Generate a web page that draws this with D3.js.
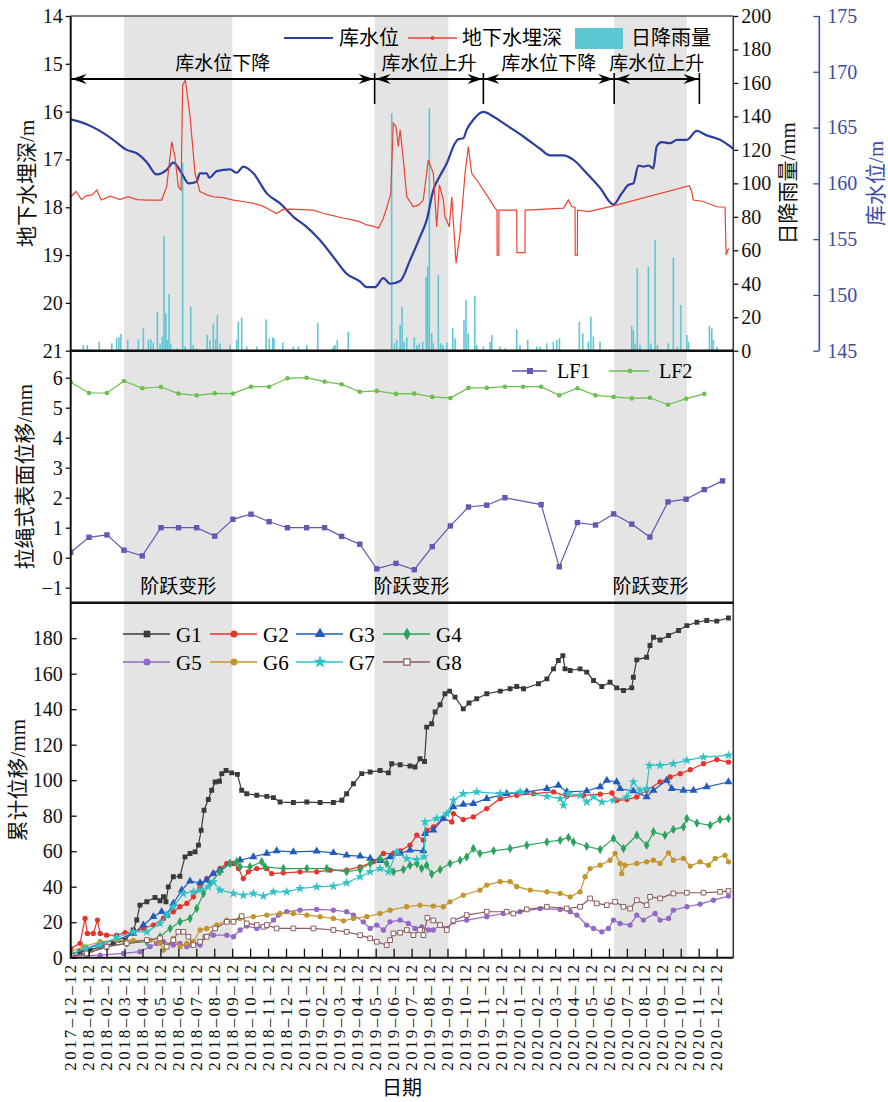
<!DOCTYPE html>
<html>
<head>
<meta charset="utf-8">
<script src="https://cdn.jsdelivr.net/npm/d3@7"></script>
<style>
  body { margin: 0; background: #fff; }
  svg { display: block; }
  text { font-family: "Liberation Serif", "Noto Sans CJK SC", serif; }
</style>
</head>
<body>
<div id="chart"></div>
<script>
// ---- data (time is in months since 2017-12-12) ----
const dateLabels = ["2017–12–12","2018–01–12","2018–02–12","2018–03–12","2018–04–12","2018–05–12",
  "2018–06–12","2018–07–12","2018–08–12","2018–09–12","2018–10–12","2018–11–12","2018–12–12",
  "2019–01–12","2019–02–12","2019–03–12","2019–04–12","2019–05–12","2019–06–12","2019–07–12",
  "2019–08–12","2019–09–12","2019–10–12","2019–11–12","2019–12–12","2020–01–12","2020–02–12",
  "2020–03–12","2020–04–12","2020–05–12","2020–06–12","2020–07–12","2020–08–12","2020–09–12",
  "2020–10–12","2020–11–12","2020–12–12"];

// shaded periods (step deformation)
const bands = [[2.97, 9.01], [16.94, 21.05], [30.29, 34.34]];
const bandLabel = "阶跃变形";

// reservoir phases
const phaseBounds = [0, 16.94, 23.0, 30.29, 35.04];
const phaseLabels = ["库水位下降", "库水位上升", "库水位下降", "库水位上升"];

// reservoir level (m)
const level = [[0,165.74],[0.89,165.3],[1.63,164.7],[2.37,163.9],[3.12,163.0],[3.68,162.7],[4.24,161.9],
  [4.79,160.8],[5.35,161.2],[5.72,161.85],[6.19,160.9],[6.56,160.0],[7.02,160.15],[7.2,160.9],[7.58,160.9],
  [7.73,160.5],[8.14,161.1],[8.88,161.26],[9.25,160.95],[9.62,161.5],[10.18,160.9],[10.93,159.1],[11.67,158.2],
  [12.41,157.0],[13.15,156.1],[13.9,154.9],[14.64,153.4],[15.38,151.9],[16.13,151.2],[16.5,150.7],[16.96,150.7],
  [17.43,151.5],[17.8,151.0],[18.36,151.25],[18.91,153.1],[19.47,155.2],[19.84,156.7],[20.21,159.4],[20.59,160.7],
  [20.96,161.8],[21.42,163.6],[21.6,163.95],[21.88,164.04],[22.07,164.8],[22.44,165.7],[23.0,166.4],[23.55,166.0],
  [24.3,165.2],[25.23,164.2],[26.16,163.1],[26.72,162.5],[27.46,162.5],[28.02,162.1],[28.76,160.9],[29.5,159.6],
  [30.25,158.1],[30.71,159.1],[31.08,159.85],[31.36,160.0],[31.64,161.6],[31.92,161.5],[32.2,161.6],[32.47,161.35],
  [32.66,163.3],[32.94,163.7],[33.4,163.6],[33.78,163.9],[34.34,163.9],[34.89,164.7],[35.45,164.3],[36.19,163.9],
  [36.93,163.1]];

// groundwater depth (m)
const depth = [[0,17.78],[0.3,17.67],[0.6,17.84],[0.85,17.76],[1.2,17.74],[1.45,17.64],[1.7,17.85],[2.2,17.77],
  [2.75,17.84],[3.2,17.78],[3.7,17.84],[4.3,17.85],[5.07,17.85],[5.35,17.57],[5.63,16.63],[5.81,16.94],[6.0,17.57],
  [6.15,17.64],[6.24,15.44],[6.39,15.34],[6.65,16.1],[6.93,17.29],[7.2,17.67],[7.6,17.74],[7.95,17.78],[8.5,17.8],
  [9.06,17.85],[9.6,17.88],[10.18,17.92],[10.6,17.96],[10.93,18.02],[11.47,18.13],[11.8,18.05],[12.22,18.04],
  [12.9,18.05],[13.52,18.06],[14.0,18.12],[14.45,18.16],[15.1,18.22],[15.75,18.27],[16.1,18.3],[16.5,18.37],
  [16.9,18.4],[17.15,18.44],[17.4,18.25],[17.61,18.02],[17.84,17.71],[17.98,16.24],[18.13,16.32],[18.26,16.73],
  [18.36,16.38],[18.54,17.01],[18.73,17.78],[19.1,17.99],[19.4,17.95],[19.65,17.85],[19.93,17.01],[20.21,17.29],
  [20.4,18.41],[20.55,17.53],[20.77,17.85],[20.86,18.2],[21.1,18.41],[21.24,17.78],[21.37,18.55],[21.48,19.17],
  [21.7,18.55],[21.98,17.29],[22.16,16.73],[22.35,17.29],[22.63,17.43],[23.0,17.64],[23.37,17.85],[23.65,18.02],
  [23.76,18.06],[23.77,19.0],[23.86,19.0],[23.87,18.06],[24.86,18.06],[24.87,18.95],[25.32,18.95],[25.33,18.06],
  [26.5,18.04],[27.46,18.02],[27.74,17.85],[27.93,17.99],[28.11,18.0],[28.12,19.0],[28.24,19.0],[28.25,18.06],
  [28.85,18.09],[30.25,17.97],[34.48,17.55],[34.61,17.67],[34.7,17.85],[35.26,17.88],[36.0,17.99],[36.47,18.0],
  [36.53,19.0],[36.66,18.86]];

// daily rainfall (mm)
const rain = [[0.7,3.4],[0.93,3.4],[1.59,5.4],[2.29,4.4],[2.56,7.4],[2.69,8],[2.8,10],[3.18,6.4],[3.77,6.8],
  [4.05,13.3],[4.33,6.4],[4.46,6.8],[4.6,4.8],[4.83,23.3],[4.98,4.4],[5.11,8.4],[5.2,68.7],[5.3,22.3],[5.38,6.4],
  [5.48,33.9],[5.57,4.4],[5.91,1.4],[6.24,112.3],[6.37,2.4],[6.69,26.3],[6.83,3.4],[7.02,1.4],[7.61,9.4],[7.76,6.4],
  [7.95,16.3],[8.08,6.8],[8.17,21.3],[8.32,4.4],[8.88,3.4],[9.25,6.4],[9.34,17.3],[9.53,19.9],[9.81,2.4],[10.37,2.4],
  [10.89,18.7],[11.07,7.4],[11.26,8],[11.33,7.4],[11.82,4.8],[12.41,2.4],[12.69,2.4],[13.16,3.4],[13.77,16.7],
  [14.64,2.4],[14.73,3.4],[14.86,6.4],[15.47,11.4],[17.89,141.8],[18.04,4.4],[18.17,6.4],[18.36,15.3],[18.47,26.3],
  [18.58,5.4],[18.73,8],[19.15,8],[19.29,3.4],[19.43,4.4],[19.62,5.4],[19.81,44.2],[19.9,50.2],[19.99,144.8],
  [20.12,10.4],[20.21,4.4],[20.49,45.2],[20.62,4.4],[20.74,3.4],[20.96,4.8],[21.29,13.7],[21.42,7.4],[21.92,18.3],
  [22.03,30.3],[22.15,10.4],[22.52,32.7],[22.63,3.4],[23.0,2.4],[23.37,5.4],[23.47,9.4],[23.93,2.4],[24.21,1.4],
  [24.86,12.7],[25.04,3.4],[25.47,6.4],[25.98,2.4],[26.16,2.4],[26.53,4.4],[26.9,5.4],[27.09,6.4],[27.24,7.4],
  [28.35,17.3],[28.54,10.4],[28.85,5.4],[28.99,20.3],[29.13,8.4],[29.5,5.4],[31.27,14.7],[31.36,12.4],[31.45,4.4],
  [31.58,49.2],[31.73,3.4],[32.2,50.2],[32.33,4.4],[32.57,66.1],[32.7,3.4],[33.31,4.4],[33.59,55.8],[33.81,2.4],
  [34.0,27.3],[34.34,9.4],[34.43,5.4],[35.6,14.7],[35.73,13.3],[35.82,6.4],[36.01,2.4],[36.9,1.4]];

// pull-wire surface displacement (mm)
const lf1 = [[0,0.18],[1.02,0.68],[2.02,0.76],[2.97,0.25],[3.99,0.06],[5.03,1.0],[6.01,1.0],[7.02,1.0],[8.03,0.72],
  [9.04,1.28],[10.05,1.45],[11.06,1.2],[12.08,1.0],[13.15,1.0],[14.15,1.0],[15.1,0.71],[16.11,0.45],[17.06,-0.37],
  [18.13,-0.19],[19.15,-0.4],[20.15,0.37],[21.16,1.06],[22.17,1.69],[23.19,1.75],[24.2,2.0],[26.22,1.77],
  [27.23,-0.3],[28.24,1.17],[29.25,1.09],[30.26,1.46],[31.27,1.12],[32.28,0.69],[33.29,1.86],[34.3,1.95],
  [35.31,2.27],[36.33,2.56]];
const lf2 = [[0,5.85],[1.02,5.49],[2.02,5.49],[2.97,5.89],[3.99,5.65],[5.03,5.69],[6.01,5.47],[7.02,5.41],[8.03,5.48],
  [9.04,5.47],[10.05,5.7],[11.06,5.7],[12.08,5.98],[13.15,6.0],[14.15,5.87],[15.1,5.78],[16.11,5.53],[17.06,5.56],
  [18.13,5.46],[19.15,5.47],[20.15,5.36],[21.16,5.32],[22.17,5.66],[23.19,5.66],[24.2,5.7],[25.21,5.7],[26.22,5.7],
  [27.23,5.41],[28.24,5.65],[29.25,5.41],[30.26,5.36],[31.27,5.31],[32.28,5.33],[33.29,5.1],[34.3,5.3],[35.31,5.46]];

// GNSS cumulative displacement (mm)
const g1 = [[0,2.4],[0.52,3.4],[1.08,4.3],[1.64,6.2],[2.38,8.1],[3.03,9.9],[3.49,15.6],[3.68,21.2],[3.86,29.6],
  [4.24,31.5],[4.7,33.9],[4.98,32.1],[5.17,34.3],[5.31,31.5],[5.44,39.9],[5.72,45.6],[6.09,45.9],[6.37,56.8],
  [6.65,58.7],[6.93,59.6],[7.12,63.4],[7.27,71.8],[7.43,83.1],[7.67,89.1],[7.86,94.3],[8.05,99.0],[8.29,99.4],
  [8.42,103.7],[8.66,105.5],[8.97,104.1],[9.29,103.3],[9.53,94.3],[9.81,92.4],[10.37,91.5],[10.93,90.9],[11.3,90.2],
  [11.67,87.7],[12.41,87.4],[13.16,87.7],[13.9,87.4],[14.64,87.4],[15.11,88.7],[15.38,92.4],[15.76,98.0],
  [16.22,103.7],[16.69,104.6],[17.24,105.5],[17.71,104.1],[17.89,109.3],[18.36,108.7],[18.91,108.0],[19.19,107.4],
  [19.47,112.1],[19.72,110.5],[19.84,129.9],[20.12,131.8],[20.31,138.4],[20.59,142.5],[20.86,148.7],[21.12,150.2],
  [21.42,146.8],[21.88,140.2],[22.2,143.5],[22.63,145.9],[23.19,148.7],[23.94,150.2],[24.49,151.5],[24.86,152.8],
  [25.24,151.5],[26.07,154.3],[26.54,157.1],[26.91,162.7],[27.18,167.4],[27.43,170.2],[27.55,162.7],[27.84,161.8],
  [28.39,162.7],[28.76,160.9],[29.14,156.2],[29.6,152.8],[30.06,155.2],[30.43,152.0],[30.81,150.5],[31.27,152.0],
  [31.36,158.0],[31.55,167.8],[32.1,169.3],[32.29,175.9],[32.48,180.5],[32.85,179.0],[33.32,181.5],[33.88,184.3],
  [34.34,187.1],[34.9,189.0],[35.45,190.0],[36.01,189.6],[36.66,191.4]];
const g2 = [[0,5.2],[0.52,8.1],[0.8,22.1],[0.93,13.7],[1.26,13.7],[1.49,21.2],[1.64,13.7],[2.0,12.7],[2.56,12.7],
  [3.03,14.1],[3.49,14.1],[4.05,16.5],[4.61,18.4],[5.17,22.1],[5.72,25.9],[6.09,28.7],[6.47,30.6],[6.84,34.3],
  [7.21,39.9],[7.58,44.6],[7.95,47.4],[8.32,50.2],[8.7,53.1],[9.07,53.1],[9.35,50.2],[9.62,44.6],[9.9,48.4],
  [10.37,50.2],[10.93,50.2],[11.2,47.4],[11.85,47.8],[12.78,48.4],[13.71,48.4],[14.46,49.3],[15.38,49.3],
  [16.13,51.2],[16.87,54.0],[17.43,58.7],[17.99,58.7],[18.36,60.2],[18.91,63.4],[19.29,69.0],[19.66,66.2],
  [19.84,71.8],[20.22,73.7],[20.77,78.4],[21.24,76.5],[21.33,81.2],[21.88,77.8],[22.44,79.3],[23.19,84.0],
  [23.94,89.6],[24.86,91.5],[25.79,92.4],[26.91,93.4],[27.65,90.9],[28.58,91.5],[29.51,92.1],[30.17,92.8],
  [30.44,88.7],[31.0,89.1],[31.55,90.6],[32.1,94.3],[32.85,99.0],[33.41,101.8],[33.97,103.7],[34.53,105.9],
  [35.27,109.3],[36.01,111.6],[36.66,110.2]];
const g3 = [[0,1.5],[0.89,5.2],[1.64,8.1],[2.56,9.9],[3.49,13.7],[4.05,18.4],[4.61,23.1],[5.07,25.9],[5.35,24.0],
  [5.72,30.6],[6.19,38.1],[6.65,43.1],[7.21,42.2],[7.58,43.7],[7.95,47.4],[8.32,49.3],[8.88,53.1],[9.44,54.9],
  [10.18,56.8],[10.93,58.7],[11.48,60.2],[12.41,59.6],[13.71,60.0],[14.64,59.1],[15.38,57.7],[16.13,57.2],
  [16.69,55.9],[17.24,54.6],[17.8,56.8],[18.36,58.7],[18.91,60.6],[19.66,60.2],[19.75,69.9],[20.21,71.8],
  [20.77,78.4],[21.33,84.9],[21.88,86.4],[22.44,86.8],[23.19,89.6],[24.3,92.4],[25.42,93.4],[26.54,95.2],
  [27.18,97.1],[27.65,93.4],[28.76,93.9],[29.51,96.2],[29.88,99.9],[30.43,99.0],[30.62,95.2],[31.36,93.9],
  [32.1,90.6],[32.48,94.3],[33.22,99.9],[33.5,95.2],[34.15,94.3],[34.71,94.3],[35.45,96.2],[36.66,99.0]];
const g4 = [[0,0.9],[0.89,2.4],[2.0,6.2],[3.12,8.1],[4.24,9.0],[4.98,11.8],[5.54,16.5],[6.09,20.2],[6.65,22.1],
  [7.02,27.7],[7.4,36.2],[7.77,41.8],[8.32,48.4],[8.88,53.1],[9.25,54.0],[9.44,51.2],[9.99,51.2],[10.65,54.0],
  [10.83,51.2],[11.85,50.2],[13.16,50.2],[14.27,50.2],[15.38,48.4],[16.13,49.7],[16.69,53.1],[17.24,55.9],
  [17.61,53.1],[17.99,48.4],[18.54,49.7],[18.91,52.1],[19.29,53.1],[19.56,50.2],[19.84,52.1],[20.12,47.1],
  [20.59,49.7],[21.14,53.1],[21.7,54.9],[22.07,56.8],[22.44,61.5],[22.81,58.7],[23.57,60.2],[24.49,61.5],
  [25.42,63.4],[26.54,65.2],[27.28,66.2],[27.74,67.7],[28.02,65.2],[28.76,62.8],[29.51,60.9],[30.25,67.1],
  [30.81,61.5],[31.55,69.0],[32.1,63.4],[32.48,70.9],[33.12,69.0],[33.59,72.2],[34.15,73.7],[34.34,78.4],
  [34.9,75.9],[35.64,74.6],[36.19,77.8],[36.66,78.4]];
const g5 = [[0,0.9],[1.64,1.5],[2.94,2.4],[3.86,3.4],[4.42,6.2],[4.79,8.1],[5.17,9.0],[5.72,7.1],[6.09,8.1],
  [6.47,6.2],[6.74,7.1],[7.21,7.1],[7.49,11.8],[7.95,12.7],[8.7,12.7],[9.07,11.8],[9.44,15.6],[9.81,17.8],
  [10.37,16.5],[10.93,17.8],[11.3,21.2],[11.58,24.0],[12.04,25.9],[12.78,26.8],[13.71,27.2],[14.64,26.8],
  [15.38,25.9],[15.76,24.0],[16.31,20.2],[16.69,16.5],[17.06,18.4],[17.43,15.6],[17.8,20.2],[18.36,21.2],
  [18.82,19.3],[19.19,16.5],[19.56,17.4],[19.94,15.6],[20.21,15.6],[20.59,18.4],[20.96,16.5],[21.33,20.2],
  [22.07,21.2],[23.19,23.1],[24.12,24.9],[25.04,25.9],[26.16,27.7],[27.28,27.2],[27.84,25.9],[28.21,24.0],
  [28.76,18.4],[29.14,16.5],[29.6,14.6],[29.97,16.5],[30.25,21.2],[30.62,19.3],[31.18,18.4],[31.55,24.0],
  [31.92,21.2],[32.57,24.9],[32.85,21.2],[33.32,22.1],[33.59,26.8],[34.34,28.7],[35.08,30.2],[35.82,32.4],
  [36.66,34.7]];
const g6 = [[0,3.4],[0.71,6.2],[1.64,9.0],[2.56,9.9],[3.49,9.6],[4.42,9.9],[4.98,8.1],[5.17,4.3],[5.35,6.2],
  [5.72,10.9],[6.09,6.2],[6.47,8.1],[6.84,9.0],[7.21,15.6],[7.58,16.5],[8.14,18.4],[8.7,21.2],[9.44,22.1],
  [10.18,23.1],[10.93,24.0],[11.67,24.9],[12.41,24.9],[13.16,24.0],[13.9,23.1],[14.64,22.1],[15.2,20.8],
  [15.76,22.1],[16.5,23.1],[17.24,24.9],[17.8,26.8],[18.73,28.7],[19.47,29.6],[20.21,29.1],[20.77,28.7],
  [21.14,31.5],[21.88,35.2],[22.81,38.1],[23.19,40.9],[23.94,42.9],[24.49,42.9],[24.86,40.0],[25.61,38.1],
  [26.54,37.1],[27.28,36.2],[27.84,34.3],[28.39,37.1],[28.67,45.6],[28.95,50.2],[29.51,52.1],[30.06,54.9],
  [30.34,58.7],[30.62,53.1],[30.71,47.4],[30.9,52.1],[31.55,53.1],[32.1,54.0],[32.48,54.9],[32.85,53.1],
  [33.32,59.1],[33.59,54.9],[34.15,55.9],[34.53,51.6],[35.08,54.0],[35.55,52.1],[35.92,55.9],[36.47,57.7],
  [36.66,54.0]];
const g7 = [[0,2.1],[0.89,5.2],[1.64,7.1],[2.56,11.4],[3.49,14.6],[4.24,14.6],[4.98,19.3],[5.35,24.0],[5.72,28.7],
  [6.28,36.2],[6.84,37.1],[7.21,38.1],[7.67,39.9],[7.95,42.7],[8.32,38.1],[9.07,36.2],[9.62,35.2],[10.18,36.2],
  [10.74,34.7],[11.3,37.1],[12.04,37.1],[12.78,39.0],[13.71,39.9],[14.64,40.3],[15.38,42.2],[16.13,45.6],
  [16.69,48.4],[17.24,50.2],[17.71,48.4],[18.17,59.6],[18.73,55.9],[19.29,55.3],[19.7,56.8],[19.75,76.5],
  [20.4,78.4],[20.96,81.2],[21.33,88.7],[21.88,92.4],[22.63,93.4],[23.94,92.4],[25.05,93.4],[26.54,90.9],
  [27.28,89.6],[27.47,85.9],[27.74,92.4],[28.39,91.5],[28.76,87.7],[29.14,90.6],[29.6,87.7],[30.25,88.7],
  [31.0,90.6],[31.36,99.0],[31.73,94.3],[32.1,95.2],[32.25,108.4],[32.85,108.4],[33.59,109.3],[34.34,111.2],
  [35.27,113.0],[36.66,114.0]];
const g8 = [[0,0.9],[0.89,2.4],[2.0,6.2],[3.12,8.1],[4.24,9.9],[4.98,10.9],[5.35,6.2],[5.72,9.9],[6.0,14.6],
  [6.28,14.6],[6.56,11.8],[6.84,7.1],[7.21,9.0],[7.58,11.8],[8.05,16.5],[8.7,20.2],[9.07,20.2],[9.53,23.4],
  [9.81,19.3],[10.37,18.4],[10.74,17.4],[10.93,18.4],[11.48,16.5],[12.41,16.5],[13.53,16.5],[14.64,15.6],
  [15.38,14.6],[16.13,12.7],[16.69,10.9],[17.06,9.0],[17.61,7.1],[17.8,9.9],[17.99,13.7],[18.36,14.1],
  [18.73,15.6],[19.1,12.7],[19.47,15.6],[19.66,12.7],[19.88,22.5],[20.21,21.0],[20.59,18.4],[20.96,15.6],
  [21.33,21.0],[22.07,24.0],[23.19,25.9],[24.3,25.9],[24.67,24.9],[25.42,27.2],[26.54,28.7],[27.65,27.7],
  [28.39,28.7],[28.95,33.4],[29.32,30.6],[29.88,29.6],[30.34,31.5],[30.81,28.7],[31.18,27.7],[31.55,32.4],
  [32.1,29.6],[32.29,34.3],[32.85,33.4],[33.59,36.2],[34.34,36.6],[35.27,36.6],[36.19,37.1],[36.66,37.7]];

const gNames = ["G1", "G2", "G3", "G4", "G5", "G6", "G7", "G8"];

// ---- layout ----
const W = 888, H = 1102;
const plotL = 70.7, plotR = 733.3;
const topP = { y0: 16, y1: 350.7 };
const midP = { y0: 350.7, y1: 602.7 };
const botP = { y0: 602.7, y1: 957.7 };
const levelAxisX = 819.3;
const blue = "#2c3f9e", axisBlue = "#3b4da6";

const svg = d3.select("#chart").append("svg").attr("width", W).attr("height", H);

const x = d3.scaleLinear().domain([0, 36.93]).range([plotL, plotR]);
const yDepth = d3.scaleLinear().domain([14, 21]).range([topP.y0, topP.y1]);
const yRain = d3.scaleLinear().domain([0, 200]).range([topP.y1, topP.y0]);
const yLevel = d3.scaleLinear().domain([145, 175]).range([topP.y1, topP.y0]);
const yLF = d3.scaleLinear().domain([-1.5, 6.9]).range([midP.y1, midP.y0]);
const yG = d3.scaleLinear().domain([0, 200]).range([botP.y1, botP.y0]);

const defs = svg.append("defs");
[["clipTop", topP], ["clipMid", midP], ["clipBot", botP]].forEach(([id, p]) => {
  defs.append("clipPath").attr("id", id).append("rect")
    .attr("x", plotL).attr("y", p.y0).attr("width", plotR - plotL).attr("height", p.y1 - p.y0);
});

// shaded bands in every panel
[topP, midP, botP].forEach(p => {
  svg.append("g").selectAll("rect").data(bands).enter().append("rect")
    .attr("x", d => x(d[0])).attr("width", d => x(d[1]) - x(d[0]))
    .attr("y", p.y0).attr("height", p.y1 - p.y0)
    .attr("fill", "#e4e4e4");
});

// ---- top panel ----
const topG = svg.append("g").attr("clip-path", "url(#clipTop)");
topG.selectAll(".rain").data(rain).enter().append("rect")
  .attr("x", d => x(d[0]) - 0.8).attr("width", 1.6)
  .attr("y", d => yRain(d[1])).attr("height", d => yRain(0) - yRain(d[1]))
  .attr("fill", "#5ec7d4");

topG.append("path").datum(level)
  .attr("d", d3.line().x(d => x(d[0])).y(d => yLevel(d[1])).curve(d3.curveMonotoneX))
  .attr("fill", "none").attr("stroke", blue).attr("stroke-width", 2.2);

topG.append("path").datum(depth)
  .attr("d", d3.line().x(d => x(d[0])).y(d => yDepth(d[1])))
  .attr("fill", "none").attr("stroke", "#ee4130").attr("stroke-width", 1.2);

// phase arrows
const arrowY = 79;
function arrowHead(tip, dir) {
  return `M${tip},${arrowY} L${tip - dir * 15},${arrowY - 5} L${tip - dir * 10},${arrowY} L${tip - dir * 15},${arrowY + 5} Z`;
}
const arrows = svg.append("g");
phaseLabels.forEach((lab, i) => {
  const a = x(phaseBounds[i]), b = x(phaseBounds[i + 1]);
  arrows.append("line").attr("x1", a).attr("x2", b).attr("y1", arrowY).attr("y2", arrowY)
    .attr("stroke", "#000").attr("stroke-width", 2);
  arrows.append("path").attr("d", arrowHead(a + 1, -1)).attr("fill", "#000");
  arrows.append("path").attr("d", arrowHead(b - 1, 1)).attr("fill", "#000");
  arrows.append("line").attr("x1", b).attr("x2", b).attr("y1", arrowY - 6).attr("y2", arrowY + 25)
    .attr("stroke", "#000").attr("stroke-width", 1.6);
  arrows.append("text").attr("x", (a + b) / 2).attr("y", 70).attr("text-anchor", "middle")
    .attr("font-size", 19).text(lab);
});

// top legend
const tl = svg.append("g").attr("font-size", 20);
tl.append("line").attr("x1", 284).attr("x2", 333).attr("y1", 38).attr("y2", 38).attr("stroke", blue).attr("stroke-width", 2.2);
tl.append("text").attr("x", 339).attr("y", 45).text("库水位");
tl.append("line").attr("x1", 408).attr("x2", 457).attr("y1", 38).attr("y2", 38).attr("stroke", "#ee4130").attr("stroke-width", 1.4);
tl.append("circle").attr("cx", 432.5).attr("cy", 38).attr("r", 2).attr("fill", "#ee4130");
tl.append("text").attr("x", 462).attr("y", 45).text("地下水埋深");
tl.append("rect").attr("x", 575).attr("y", 28).attr("width", 48).attr("height", 21).attr("fill", "#5ec7d4");
tl.append("text").attr("x", 631).attr("y", 45).text("日降雨量");

// ---- middle panel ----
const midG = svg.append("g").attr("clip-path", "url(#clipMid)");
const lfLine = d3.line().x(d => x(d[0])).y(d => yLF(d[1]));
midG.append("path").datum(lf2).attr("d", lfLine).attr("fill", "none").attr("stroke", "#6cbf4e").attr("stroke-width", 1.2);
midG.selectAll(".lf2").data(lf2).enter().append("circle")
  .attr("cx", d => x(d[0])).attr("cy", d => yLF(d[1])).attr("r", 2.3).attr("fill", "#6cbf4e");
midG.append("path").datum(lf1).attr("d", lfLine).attr("fill", "none").attr("stroke", "#6a55b3").attr("stroke-width", 1.2);
midG.selectAll(".lf1").data(lf1).enter().append("rect")
  .attr("x", d => x(d[0]) - 2.7).attr("y", d => yLF(d[1]) - 2.7).attr("width", 5.4).attr("height", 5.4).attr("fill", "#6a55b3");

bands.forEach(b => {
  svg.append("text").attr("x", (x(b[0]) + x(b[1])) / 2).attr("y", 593).attr("text-anchor", "middle")
    .attr("font-size", 19).text(bandLabel);
});

const ml = svg.append("g").attr("font-size", 20);
ml.append("line").attr("x1", 512).attr("x2", 547).attr("y1", 371).attr("y2", 371).attr("stroke", "#6a55b3").attr("stroke-width", 1.4);
ml.append("rect").attr("x", 527).attr("y", 368).attr("width", 6).attr("height", 6).attr("fill", "#6a55b3");
ml.append("text").attr("x", 557).attr("y", 378).text("LF1");
ml.append("line").attr("x1", 609).attr("x2", 649).attr("y1", 371).attr("y2", 371).attr("stroke", "#6cbf4e").attr("stroke-width", 1.4);
ml.append("circle").attr("cx", 630).attr("cy", 371).attr("r", 2.4).attr("fill", "#6cbf4e");
ml.append("text").attr("x", 659).attr("y", 378).text("LF2");

// ---- bottom panel ----
const gStyles = [
  { color: "#3a3a3a", sym: d3.symbolSquare, size: 24, open: false },
  { color: "#e8332b", sym: d3.symbolCircle, size: 22, open: false },
  { color: "#1f5cc0", sym: d3.symbolTriangle, size: 28, open: false },
  { color: "#2ca35c", sym: d3.symbolDiamond, size: 26, open: false },
  { color: "#9468c6", sym: d3.symbolCircle, size: 22, open: false },
  { color: "#c4952c", sym: d3.symbolCircle, size: 22, open: false },
  { color: "#2ec3c6", sym: d3.symbolStar, size: 30, open: false },
  { color: "#8c5c5c", sym: d3.symbolSquare, size: 22, open: true }
];
const gData = [g1, g2, g3, g4, g5, g6, g7, g8];
const botG = svg.append("g").attr("clip-path", "url(#clipBot)");
const gLine = d3.line().x(d => x(d[0])).y(d => yG(d[1]));
gData.forEach((data, i) => {
  const st = gStyles[i];
  botG.append("path").datum(data).attr("d", gLine).attr("fill", "none").attr("stroke", st.color).attr("stroke-width", 1.2);
  botG.append("g").selectAll("path").data(data).enter().append("path")
    .attr("transform", d => `translate(${x(d[0])},${yG(d[1])})`)
    .attr("d", d3.symbol().type(st.sym).size(st.size))
    .attr("fill", st.open ? "#fff" : st.color)
    .attr("stroke", st.open ? st.color : "none").attr("stroke-width", 1);
});

// bottom legend
const legCols = [123, 210, 296, 383], legRows = [634, 662];
gNames.forEach((name, i) => {
  const st = gStyles[i];
  const cx = legCols[i % 4], cy = legRows[Math.floor(i / 4)];
  const lg = svg.append("g");
  lg.append("line").attr("x1", cx).attr("x2", cx + 47).attr("y1", cy).attr("y2", cy).attr("stroke", st.color).attr("stroke-width", 1.4);
  lg.append("path").attr("transform", `translate(${cx + 24},${cy})`)
    .attr("d", d3.symbol().type(st.sym).size(st.size * 1.8))
    .attr("fill", st.open ? "#fff" : st.color).attr("stroke", st.open ? st.color : "none").attr("stroke-width", 1.2);
  lg.append("text").attr("x", cx + 53).attr("y", cy + 7.5).attr("font-size", 21).text(name);
});

// ---- axes ----
const fmtInt = d3.format("d");
function tidy(g, size, color) {
  g.select(".domain").remove();
  g.selectAll("text").attr("font-size", size).attr("fill", color).attr("font-family", "Liberation Serif, serif");
  g.selectAll("line").attr("stroke", color).attr("stroke-width", 1.3);
}
svg.append("g").attr("transform", `translate(${plotL},0)`)
  .call(d3.axisLeft(yDepth).tickValues(d3.range(14, 22)).tickFormat(fmtInt).tickSize(5).tickPadding(3))
  .call(g => tidy(g, 20, "#111"));
svg.append("g").attr("transform", `translate(${plotR},0)`)
  .call(d3.axisRight(yRain).tickValues(d3.range(0, 201, 20)).tickFormat(fmtInt).tickSize(5).tickPadding(3))
  .call(g => tidy(g, 20, "#111"));
svg.append("g").attr("transform", `translate(${levelAxisX},0)`)
  .call(d3.axisRight(yLevel).tickValues(d3.range(145, 176, 5)).tickFormat(fmtInt).tickSizeInner(-6).tickSizeOuter(0).tickPadding(8))
  .call(g => tidy(g, 20, axisBlue));
svg.append("g").attr("transform", `translate(${plotL},0)`)
  .call(d3.axisLeft(yLF).tickValues(d3.range(-1, 7)).tickFormat(d3.format("d")).tickSize(5).tickPadding(3))
  .call(g => tidy(g, 20, "#111"));
svg.append("g").attr("transform", `translate(${plotL},0)`)
  .call(d3.axisLeft(yG).tickValues(d3.range(0, 181, 20)).tickFormat(fmtInt).tickSizeInner(-6).tickSizeOuter(0).tickPadding(8))
  .call(g => tidy(g, 20, "#111"));

const gx = svg.append("g").attr("transform", `translate(0,${botP.y1})`)
  .call(d3.axisBottom(x).tickValues(d3.range(dateLabels.length)).tickFormat(i => dateLabels[i])
    .tickSizeInner(-9).tickSizeOuter(0));
tidy(gx, 17, "#111");
gx.selectAll("text").attr("transform", "rotate(-90)").attr("text-anchor", "end")
  .attr("x", -7).attr("y", 0).attr("dy", "0.3em")
  .attr("textLength", 106).attr("lengthAdjust", "spacing");

// frame lines
const frame = svg.append("g").attr("fill", "none");
frame.append("line").attr("x1", plotL).attr("x2", plotR).attr("y1", topP.y0).attr("y2", topP.y0).attr("stroke", "#555").attr("stroke-width", 1.5);
frame.append("line").attr("x1", plotR).attr("x2", plotR).attr("y1", topP.y0).attr("y2", botP.y1).attr("stroke", "#333").attr("stroke-width", 1.5);
frame.append("line").attr("x1", plotL).attr("x2", plotL).attr("y1", topP.y0).attr("y2", botP.y1 + 1).attr("stroke", "#111").attr("stroke-width", 2);
[topP.y1, midP.y1].forEach(yy => {
  frame.append("line").attr("x1", plotL).attr("x2", plotR).attr("y1", yy).attr("y2", yy).attr("stroke", "#111").attr("stroke-width", 2.6);
});
frame.append("line").attr("x1", plotL).attr("x2", plotR).attr("y1", botP.y1).attr("y2", botP.y1).attr("stroke", "#111").attr("stroke-width", 2);
frame.append("line").attr("x1", levelAxisX).attr("x2", levelAxisX).attr("y1", topP.y0).attr("y2", topP.y1).attr("stroke", axisBlue).attr("stroke-width", 1.6);

// axis titles
function vTitle(tx, ty, label, color) {
  svg.append("text").attr("transform", `translate(${tx},${ty}) rotate(-90)`)
    .attr("text-anchor", "middle").attr("dy", "0.35em").attr("font-size", 21).attr("fill", color).text(label);
}
vTitle(27, (topP.y0 + topP.y1) / 2, "地下水埋深/m", "#111");
vTitle(788, (topP.y0 + topP.y1) / 2, "日降雨量/mm", "#111");
vTitle(876, (topP.y0 + topP.y1) / 2, "库水位/m", axisBlue);
vTitle(25, (midP.y0 + midP.y1) / 2, "拉绳式表面位移/mm", "#111");
vTitle(18, (botP.y0 + botP.y1) / 2, "累计位移/mm", "#111");
svg.append("text").attr("x", (plotL + plotR) / 2).attr("y", 1095).attr("text-anchor", "middle")
  .attr("font-size", 20).text("日期");
</script>
</body>
</html>
